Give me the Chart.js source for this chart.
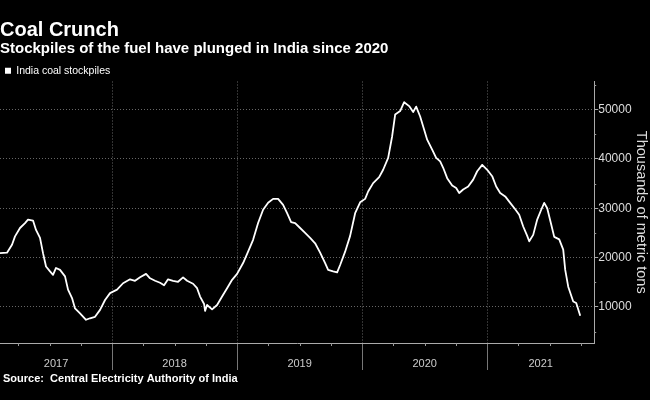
<!DOCTYPE html>
<html>
<head>
<meta charset="utf-8">
<style>
  html, body { margin: 0; padding: 0; background: #000; }
  canvas { display: block; }
</style>
</head>
<body>
<canvas id="coalChart" width="650" height="400"></canvas>
<script src="https://cdn.jsdelivr.net/npm/chart.js@4.4.0/dist/chart.umd.min.js"></script>
<script>
const FONT = '"Liberation Sans", Arial, sans-serif';

// dates as fractional years
const years = [
  2017.104, 2017.160, 2017.200, 2017.224, 2017.264, 2017.304, 2017.328, 2017.368, 2017.392, 2017.424,
  2017.448, 2017.472, 2017.504, 2017.528, 2017.552, 2017.584, 2017.624, 2017.648, 2017.680, 2017.704,
  2017.744, 2017.792, 2017.824, 2017.864, 2017.904, 2017.944, 2017.984,
  2018.040, 2018.088, 2018.144, 2018.184, 2018.224, 2018.272, 2018.304, 2018.344, 2018.384, 2018.416,
  2018.448, 2018.488, 2018.528, 2018.568, 2018.600, 2018.648, 2018.680, 2018.704, 2018.736, 2018.744,
  2018.760, 2018.800, 2018.840, 2018.880, 2018.920, 2018.960,
  2019.000, 2019.048, 2019.088, 2019.128, 2019.168, 2019.208, 2019.248, 2019.288, 2019.328, 2019.368,
  2019.400, 2019.432, 2019.464, 2019.504, 2019.544, 2019.584, 2019.624, 2019.664, 2019.704, 2019.728,
  2019.768, 2019.800, 2019.824, 2019.864, 2019.904, 2019.944, 2019.984,
  2020.024, 2020.048, 2020.088, 2020.136, 2020.168, 2020.208, 2020.240, 2020.264, 2020.304, 2020.336,
  2020.376, 2020.408, 2020.432, 2020.464, 2020.496, 2020.520, 2020.560, 2020.592, 2020.624, 2020.648,
  2020.680, 2020.720, 2020.752, 2020.776, 2020.808, 2020.848, 2020.888, 2020.920, 2020.960,
  2021.000, 2021.040, 2021.072, 2021.104, 2021.144, 2021.184, 2021.224, 2021.256, 2021.288, 2021.320,
  2021.336, 2021.368, 2021.400, 2021.432, 2021.456, 2021.480, 2021.512, 2021.536, 2021.576, 2021.608,
  2021.624, 2021.648, 2021.688, 2021.712, 2021.744
];

// thousands of metric tons
const stockpiles = [
  20900, 21000, 22600, 24300, 26000, 27000, 27700, 27500, 25600, 24000,
  20900, 18200, 17200, 16500, 17900, 17500, 16200, 13500, 11800, 9700,
  8700, 7400, 7700, 8000, 9400, 11400, 12800,
  13500, 14800, 15600, 15300, 16000, 16700, 15800, 15300, 14900, 14400,
  15600, 15300, 15100, 16000, 15300, 14700, 13800, 12100, 10600, 9200,
  10400, 9500, 10400, 12100, 13800, 15500,
  16700, 18900, 21200, 23600, 27000, 29700, 31100, 31900, 31900, 30700,
  29000, 27200, 27000, 26000, 25000, 24000, 22900, 21000, 18900, 17500,
  17200, 17000, 18500, 21200, 24400, 29000, 31200,
  31900, 33400, 35100, 36300, 37800, 40200, 44600, 49000, 49700, 51500,
  50700, 49500, 50600, 48600, 45900, 43900, 41900, 40200, 39500, 38200,
  36100, 34600, 34100, 33100, 33800, 34400, 35800, 37500, 38800,
  37800, 36500, 34400, 33100, 32400, 31100, 29800, 28700, 26300, 24400,
  23300, 24600, 27700, 29700, 31100, 30000, 26700, 24200, 23700, 21600,
  17500, 14100, 11100, 10800, 8200
];

const yearLabels = [2017, 2018, 2019, 2020, 2021];
const yearBreaks = [2018, 2019, 2020, 2021];
const yTicks = [10000, 20000, 30000, 40000, 50000];
const sourceNote = 'Source:  Central Electricity Authority of India';

// quarter ticks, year names under the axis, minor y ticks and the source line
const extrasPlugin = {
  id: 'extras',
  afterDraw(chart) {
    const { ctx, chartArea, scales: { x, y } } = chart;
    ctx.save();
    ctx.strokeStyle = '#999';
    ctx.lineWidth = 1;
    ctx.beginPath();
    for (let v = 5000; v <= y.max; v += 10000) {
      const py = Math.round(y.getPixelForValue(v)) + 0.5;
      ctx.moveTo(chartArea.right, py);
      ctx.lineTo(chartArea.right + 2, py);
    }
    for (let q = Math.ceil(x.min * 4); q <= x.max * 4; q++) {
      if (q % 4 === 0) continue;
      const px = Math.round(x.getPixelForValue(q / 4)) + 0.5;
      ctx.moveTo(px, chartArea.bottom);
      ctx.lineTo(px, chartArea.bottom + 3);
    }
    ctx.stroke();

    ctx.fillStyle = '#ccc';
    ctx.font = '11px ' + FONT;
    ctx.textAlign = 'center';
    ctx.textBaseline = 'middle';
    yearLabels.forEach(yr => {
      const from = Math.max(yr, x.min);
      const to = Math.min(yr + 1, x.max);
      const px = (x.getPixelForValue(from) + x.getPixelForValue(to)) / 2;
      ctx.fillText(String(yr), px, chartArea.bottom + 21);
    });

    ctx.textAlign = 'left';
    ctx.fillStyle = '#fff';
    ctx.font = 'bold 11px ' + FONT;
    ctx.fillText(sourceNote, 3, chartArea.bottom + 36);
    ctx.restore();
  }
};

const ctx = document.getElementById('coalChart').getContext('2d');

const coalChart = new Chart(ctx, {
  type: 'line',
  data: {
    datasets: [{
      label: 'India coal stockpiles',
      data: years.map((t, i) => ({ x: t, y: stockpiles[i] })),
      borderColor: '#fff',
      backgroundColor: '#fff',
      borderWidth: 1.8,
      borderJoinStyle: 'round',
      pointRadius: 0,
      tension: 0
    }]
  },
  options: {
    responsive: false,
    animation: false,
    layout: { padding: { left: 0, right: 0, top: 0, bottom: 30 } },
    scales: {
      x: {
        type: 'linear',
        min: 2017.104,
        max: 2021.856,
        afterBuildTicks: scale => { scale.ticks = yearBreaks.map(v => ({ value: v })); },
        ticks: { display: false },
        grid: { color: '#666', tickColor: '#777', tickLength: 27 },
        border: { color: '#aaa', dash: [1, 2] }
      },
      y: {
        position: 'right',
        min: 2690,
        max: 55690,
        afterBuildTicks: scale => { scale.ticks = yTicks.map(v => ({ value: v })); },
        ticks: {
          color: '#ddd',
          padding: 0,
          font: { family: FONT, size: 12 },
          callback: v => String(v)
        },
        grid: { color: '#666', tickColor: '#aaa', tickLength: 4 },
        border: { color: '#aaa', dash: [1, 2] },
        title: {
          display: true,
          text: 'Thousands of metric tons',
          color: '#ddd',
          font: { family: FONT, size: 14.5 },
          padding: { top: 0, bottom: 1 }
        }
      }
    },
    plugins: {
      title: {
        display: true,
        text: 'Coal Crunch',
        align: 'start',
        color: '#fff',
        font: { family: FONT, size: 20, weight: 'bold', lineHeight: 1.1 },
        padding: { top: 19.5, bottom: 0 }
      },
      subtitle: {
        display: true,
        text: 'Stockpiles of the fuel have plunged in India since 2020',
        align: 'start',
        color: '#fff',
        font: { family: FONT, size: 15, weight: 'bold', lineHeight: 1 },
        padding: { top: 0, bottom: 4 }
      },
      legend: {
        position: 'top',
        align: 'start',
        maxHeight: 21,
        labels: {
          color: '#fff',
          boxWidth: 6,
          boxHeight: 6,
          padding: 5,
          font: { family: FONT, size: 10.5 },
          generateLabels: chart => Chart.defaults.plugins.legend.labels.generateLabels(chart)
            .map(item => Object.assign(item, { lineWidth: 0 }))
        }
      },
      tooltip: { enabled: false }
    }
  },
  plugins: [extrasPlugin]
});
</script>
</body>
</html>
